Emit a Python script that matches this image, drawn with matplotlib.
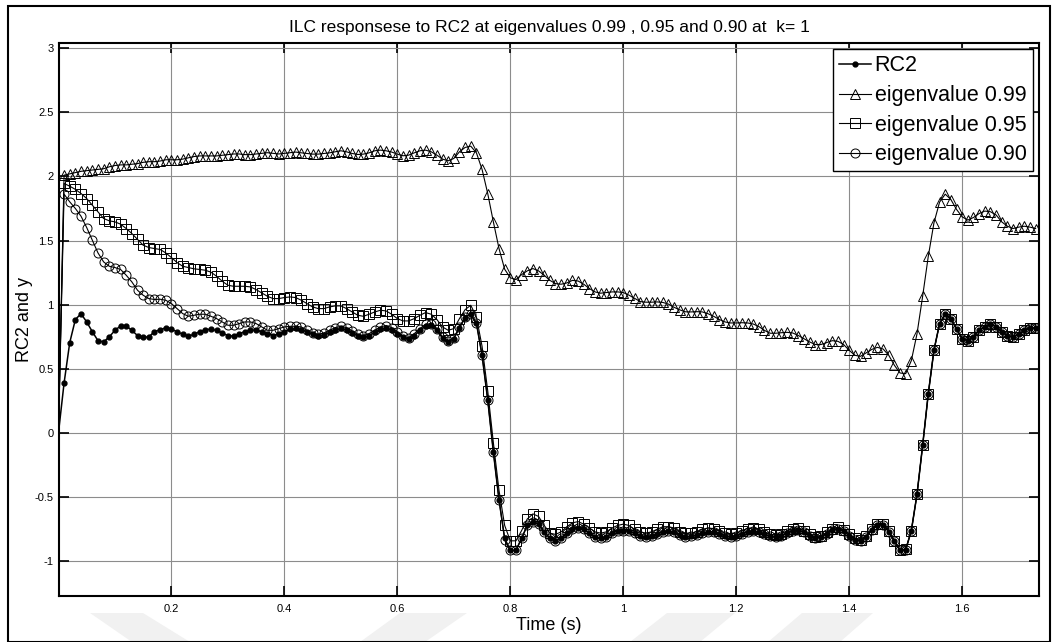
import numpy as np
import matplotlib.pyplot as plt
from matplotlib.ticker import FormatStrFormatter
from matplotlib.patches import Polygon, Rectangle

plt.rcParams['font.family'] = ['Liberation Sans', 'DejaVu Sans']

# sample times (s), 0.01 s step
t = np.round(np.arange(174) * 0.01, 2)

rc2 = [
    0.0, 0.39, 0.705, 0.885, 0.93, 0.866, 0.79, 0.72, 0.71, 0.75,
    0.80, 0.835, 0.835, 0.80, 0.76, 0.745, 0.75, 0.79, 0.805, 0.82,
    0.81, 0.79, 0.77, 0.755, 0.77, 0.79, 0.805, 0.81, 0.80, 0.78,
    0.76, 0.755, 0.775, 0.79, 0.805, 0.80, 0.79, 0.775, 0.76, 0.77,
    0.79, 0.81, 0.815, 0.805, 0.79, 0.77, 0.76, 0.765, 0.785, 0.805,
    0.815, 0.805, 0.78, 0.76, 0.75, 0.76, 0.785, 0.81, 0.82, 0.805,
    0.775, 0.745, 0.735, 0.76, 0.80, 0.835, 0.84, 0.80, 0.74, 0.71,
    0.735, 0.82, 0.90, 0.925, 0.855, 0.606, 0.26, -0.148, -0.52, -0.82,
    -0.915, -0.915, -0.82, -0.72, -0.69, -0.71, -0.77, -0.82, -0.84, -0.82,
    -0.78, -0.75, -0.74, -0.75, -0.78, -0.81, -0.82, -0.81, -0.78, -0.76,
    -0.76, -0.765, -0.78, -0.80, -0.81, -0.80, -0.785, -0.77, -0.765, -0.775,
    -0.795, -0.81, -0.805, -0.795, -0.78, -0.77, -0.77, -0.785, -0.80, -0.81,
    -0.80, -0.785, -0.77, -0.765, -0.775, -0.79, -0.805, -0.81, -0.80, -0.78,
    -0.76, -0.755, -0.775, -0.80, -0.82, -0.81, -0.785, -0.755, -0.745, -0.765,
    -0.80, -0.83, -0.84, -0.81, -0.755, -0.715, -0.715, -0.77, -0.845, -0.915,
    -0.91, -0.76, -0.478, -0.096, 0.307, 0.645, 0.853, 0.93, 0.89, 0.81,
    0.736, 0.72, 0.75, 0.80, 0.83, 0.85, 0.83, 0.79, 0.76, 0.75,
    0.77, 0.80, 0.82, 0.82,
]

eig_099 = [
    0.0, 2.01, 2.02, 2.03, 2.04, 2.045, 2.05, 2.055, 2.06, 2.075,
    2.085, 2.09, 2.09, 2.095, 2.10, 2.11, 2.115, 2.115, 2.12, 2.13,
    2.13, 2.13, 2.135, 2.145, 2.155, 2.16, 2.16, 2.16, 2.16, 2.165,
    2.17, 2.175, 2.175, 2.17, 2.17, 2.175, 2.18, 2.185, 2.18, 2.175,
    2.18, 2.185, 2.19, 2.184, 2.179, 2.174, 2.174, 2.179, 2.184, 2.192,
    2.20, 2.192, 2.179, 2.171, 2.174, 2.184, 2.20, 2.205, 2.20, 2.19,
    2.174, 2.161, 2.166, 2.184, 2.20, 2.205, 2.192, 2.166, 2.135, 2.122,
    2.14, 2.192, 2.226, 2.236, 2.184, 2.055, 1.867, 1.646, 1.438, 1.277,
    1.21, 1.196, 1.235, 1.264, 1.282, 1.264, 1.23, 1.19, 1.165, 1.16,
    1.17, 1.19, 1.185, 1.16, 1.126, 1.10, 1.09, 1.095, 1.10, 1.10,
    1.095, 1.075, 1.05, 1.025, 1.02, 1.02, 1.022, 1.018, 1.005, 0.98,
    0.96, 0.945, 0.944, 0.946, 0.944, 0.93, 0.91, 0.885, 0.866, 0.858,
    0.858, 0.86, 0.858, 0.85, 0.83, 0.80, 0.778, 0.778, 0.782, 0.785,
    0.78, 0.76, 0.735, 0.71, 0.69, 0.69, 0.705, 0.72, 0.715, 0.69,
    0.645, 0.606, 0.598, 0.625, 0.652, 0.668, 0.655, 0.606, 0.528, 0.468,
    0.463, 0.565, 0.773, 1.066, 1.378, 1.638, 1.80, 1.862, 1.82, 1.743,
    1.685, 1.66, 1.68, 1.711, 1.73, 1.725, 1.70, 1.646, 1.612, 1.594,
    1.605, 1.612, 1.605, 1.594,
]

eig_095 = [
    0.0, 1.945, 1.924, 1.899, 1.867, 1.828, 1.776, 1.724, 1.672, 1.654,
    1.646, 1.628, 1.594, 1.555, 1.509, 1.464, 1.446, 1.438, 1.431, 1.404,
    1.368, 1.329, 1.30, 1.29, 1.28, 1.275, 1.269, 1.254, 1.222, 1.183,
    1.152, 1.144, 1.144, 1.144, 1.139, 1.118, 1.092, 1.066, 1.048, 1.048,
    1.056, 1.061, 1.056, 1.035, 1.009, 0.983, 0.970, 0.970, 0.983, 0.991,
    0.991, 0.970, 0.944, 0.918, 0.910, 0.926, 0.944, 0.957, 0.952, 0.926,
    0.892, 0.874, 0.874, 0.892, 0.918, 0.939, 0.926, 0.885, 0.827, 0.801,
    0.814, 0.892, 0.962, 0.996, 0.905, 0.676, 0.33, -0.075, -0.447, -0.72,
    -0.84, -0.84, -0.76, -0.67, -0.63, -0.65, -0.72, -0.78, -0.79, -0.77,
    -0.73, -0.70, -0.69, -0.71, -0.74, -0.77, -0.78, -0.77, -0.74, -0.72,
    -0.71, -0.72, -0.75, -0.77, -0.78, -0.77, -0.75, -0.73, -0.73, -0.74,
    -0.77, -0.78, -0.78, -0.77, -0.75, -0.74, -0.745, -0.76, -0.78, -0.785,
    -0.78, -0.76, -0.745, -0.74, -0.75, -0.77, -0.79, -0.795, -0.785, -0.76,
    -0.745, -0.74, -0.76, -0.79, -0.81, -0.80, -0.775, -0.745, -0.735, -0.755,
    -0.79, -0.82, -0.83, -0.80, -0.745, -0.705, -0.705, -0.76, -0.84, -0.91,
    -0.905, -0.76, -0.478, -0.096, 0.307, 0.645, 0.853, 0.93, 0.89, 0.81,
    0.736, 0.72, 0.75, 0.80, 0.83, 0.85, 0.83, 0.79, 0.76, 0.75,
    0.77, 0.80, 0.82, 0.82,
]

eig_090 = [
    0.0, 1.862, 1.802, 1.75, 1.69, 1.602, 1.503, 1.404, 1.334, 1.30,
    1.29, 1.275, 1.23, 1.178, 1.113, 1.074, 1.048, 1.041, 1.043, 1.035,
    1.009, 0.97, 0.931, 0.91, 0.918, 0.926, 0.926, 0.91, 0.892, 0.866,
    0.84, 0.84, 0.853, 0.866, 0.866, 0.853, 0.827, 0.801, 0.801, 0.814,
    0.827, 0.832, 0.832, 0.827, 0.801, 0.78, 0.77, 0.78, 0.801, 0.822,
    0.832, 0.822, 0.796, 0.77, 0.76, 0.775, 0.801, 0.827, 0.838, 0.822,
    0.788, 0.754, 0.744, 0.775, 0.814, 0.848, 0.853, 0.814, 0.749, 0.718,
    0.744, 0.827, 0.905, 0.931, 0.855, 0.606, 0.26, -0.148, -0.52, -0.83,
    -0.915, -0.915, -0.82, -0.72, -0.69, -0.71, -0.77, -0.82, -0.84, -0.82,
    -0.78, -0.75, -0.74, -0.75, -0.78, -0.81, -0.82, -0.81, -0.78, -0.76,
    -0.76, -0.765, -0.78, -0.80, -0.81, -0.80, -0.785, -0.77, -0.765, -0.775,
    -0.795, -0.81, -0.805, -0.795, -0.78, -0.77, -0.77, -0.785, -0.80, -0.81,
    -0.80, -0.785, -0.77, -0.765, -0.775, -0.79, -0.805, -0.81, -0.80, -0.78,
    -0.76, -0.755, -0.775, -0.80, -0.82, -0.81, -0.785, -0.755, -0.745, -0.765,
    -0.80, -0.83, -0.84, -0.81, -0.755, -0.715, -0.715, -0.77, -0.845, -0.915,
    -0.91, -0.76, -0.478, -0.096, 0.307, 0.645, 0.853, 0.93, 0.89, 0.81,
    0.736, 0.72, 0.75, 0.80, 0.83, 0.85, 0.83, 0.79, 0.76, 0.75,
    0.77, 0.80, 0.82, 0.82,
]

labels = ['RC2', 'eigenvalue 0.99', 'eigenvalue 0.95', 'eigenvalue 0.90']
xticks = [0.2, 0.4, 0.6, 0.8, 1.0, 1.2, 1.4, 1.6]
yticks = [-1, -0.5, 0, 0.5, 1, 1.5, 2, 2.5, 3]

W, H = 1052, 642
fig = plt.figure(figsize=(W / 100, H / 100), dpi=100)

# faint background bands along the bottom edge (pixel coords, y from top)
bands = [
    [(90, 613), (143, 613), (190, 642), (132, 642)],
    [(400, 613), (467, 613), (425, 642), (360, 642)],
    [(667, 613), (735, 613), (700, 642), (630, 642)],
    [(802, 613), (873, 613), (840, 642), (768, 642)],
]
for b in bands:
    fig.patches.append(Polygon([(x / W, 1 - y / H) for x, y in b], closed=True,
                               transform=fig.transFigure, facecolor='#f1f1f1',
                               edgecolor='none', zorder=0))

# outer frame
fig.patches.append(Rectangle((8 / W, 0), 1 - 10 / W, 1 - 6 / H, transform=fig.transFigure,
                             fill=False, edgecolor='black', linewidth=1.5))

ax = fig.add_axes([59 / W, 1 - 596 / H, 980 / W, 553 / H])

n = len(t)
mk = range(1, n)
ax.plot(t, rc2, '-', color='black', lw=1.1, marker='.', ms=7, markevery=mk, label=labels[0])
ax.plot(t, eig_099, '-', color='black', lw=0.8, marker='^', ms=7, mfc='none', mew=0.7,
        markevery=mk, label=labels[1])
ax.plot(t, eig_095, '-', color='black', lw=0.8, marker='s', ms=6.5, mfc='none', mew=0.7,
        markevery=mk, label=labels[2])
ax.plot(t, eig_090, '-', color='black', lw=0.8, marker='o', ms=6.5, mfc='none', mew=0.7,
        markevery=mk, label=labels[3])

ax.set_xlim(0.001, 1.736)
ax.set_ylim(-1.27, 3.04)
ax.set_xticks(xticks)
ax.set_yticks(yticks)
ax.xaxis.set_major_formatter(FormatStrFormatter('%g'))
ax.yaxis.set_major_formatter(FormatStrFormatter('%g'))
ax.tick_params(direction='in', length=7, width=1.2, top=True, right=True, labelsize=8)
ax.tick_params(axis='x', pad=6)
ax.tick_params(axis='y', pad=4)
ax.grid(True, color='#8c8c8c', lw=0.8)
for s in ax.spines.values():
    s.set_linewidth(1.5)

ax.set_title('ILC responsese to RC2 at eigenvalues 0.99 , 0.95 and 0.90 at  k= 1', fontsize=12.5, pad=8)
ax.set_xlabel('Time (s)', fontsize=13)
ax.set_ylabel('RC2 and y', fontsize=13)
ax.xaxis.set_label_coords(0.5, -21 / 553)
ax.yaxis.set_label_coords(-26 / 980, 0.5)

leg = ax.legend(loc='upper right', fontsize=15.5, handlelength=1.5, handletextpad=0.15,
                labelspacing=0.4, borderpad=0.28, borderaxespad=0.3, fancybox=False,
                framealpha=1, edgecolor='black', numpoints=1)
leg.get_frame().set_linewidth(1.0)

fig.savefig('out.png', dpi=100)
